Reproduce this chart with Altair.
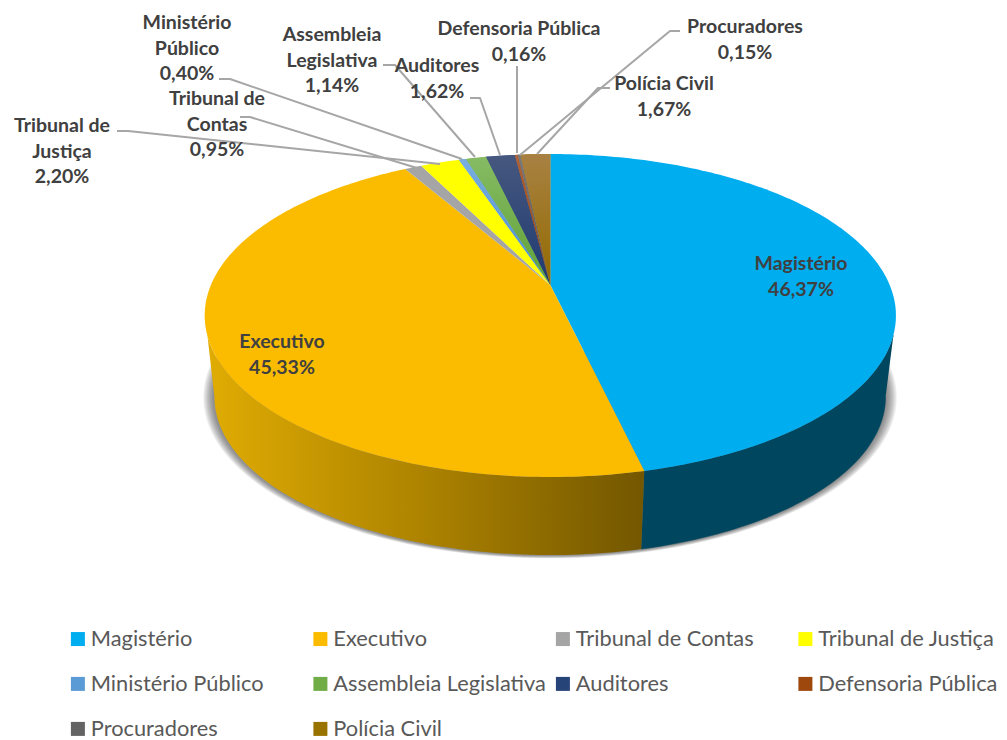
import math
import altair as alt
import pandas as pd

names = ["Magistério", "Executivo", "Tribunal de Contas", "Tribunal de Justiça", "Ministério Público",
         "Assembleia Legislativa", "Auditores", "Defensoria Pública", "Procuradores", "Polícia Civil"]
values = [46.37, 45.33, 0.95, 2.20, 0.40, 1.14, 1.62, 0.16, 0.15, 1.67]
colors = ["#00ADEF", "#FBBC00", "#A5A5A5", "#FFFF00", "#5B9BD5", "#70AD47", "#264478", "#9E480E", "#636363", "#997300"]
gradients = {
    "Ministério Público": ("#79AEE0", "#4A8CCB"),
    "Assembleia Legislativa": ("#86BB64", "#5FA136"),
    "Auditores": ("#46587F", "#1F3A70"),
    "Defensoria Pública": ("#AE6238", "#983F04"),
    "Procuradores": ("#7A7A7A", "#555555"),
    "Polícia Civil": ("#A88143", "#936B00"),
}
label_lines = {
    "Magistério": ["Magistério"],
    "Executivo": ["Executivo"],
    "Tribunal de Contas": ["Tribunal de", "Contas"],
    "Tribunal de Justiça": ["Tribunal de", "Justiça"],
    "Ministério Público": ["Ministério", "Público"],
    "Assembleia Legislativa": ["Assembleia", "Legislativa"],
    "Auditores": ["Auditores"],
    "Defensoria Pública": ["Defensoria Pública"],
    "Procuradores": ["Procuradores"],
    "Polícia Civil": ["Polícia Civil"],
}
# label placement (centre x, first line y) in page pixels
label_pos = {
    "Magistério": (801, 264), "Executivo": (282, 342), "Tribunal de Contas": (217, 99),
    "Tribunal de Justiça": (62, 126), "Ministério Público": (187, 23), "Assembleia Legislativa": (332, 35),
    "Auditores": (437, 66), "Defensoria Pública": (519, 29), "Procuradores": (745, 27), "Polícia Civil": (664, 84),
}
leaders = {
    "Tribunal de Contas": [(240, 117), (250, 117), (417, 168)],
    "Tribunal de Justiça": [(117, 131), (128, 131), (440, 164)],
    "Ministério Público": [(219, 79), (230, 79), (462, 159)],
    "Assembleia Legislativa": [(383, 65), (395, 65), (475, 157)],
    "Auditores": [(470, 98), (480, 98), (500, 155)],
    "Defensoria Pública": [(517, 66), (517, 153)],
    "Procuradores": [(680, 31), (670, 31), (520, 155)],
    "Polícia Civil": [(610, 88), (598, 88), (537, 154)],
}

W, H = 991, 732
K = 0.189
TOP = dict(cx=550.3, cy=285.0, a=339.4, b=155.7)
BOT = dict(cx=550.0, cy=367.0, a=329.5, b=152.5)


def project(deg, g):
    t = math.radians(deg)
    u, v = math.sin(t), math.cos(t)
    d = 1 + K * v
    return g["cx"] + g["a"] * u / d, g["cy"] - g["b"] * v / d


def arc(a0, a1, g):
    n = max(2, int(abs(a1 - a0)) + 2)
    return [project(a0 + (a1 - a0) * i / (n - 1), g) for i in range(n)]


total = sum(values)
edges = [0.0]
for val in values:
    edges.append(edges[-1] + val / total * 360)

apex = (TOP["cx"], TOP["cy"])
slice_rows = []
gradient_polys = {}
for k, nm in enumerate(names):
    pts = [apex] + arc(edges[k], edges[k + 1], TOP) + [apex]
    for i, (x, y) in enumerate(pts):
        slice_rows.append(dict(name=nm, i=i, x=x, y=y))
    if nm in gradients:
        gradient_polys[nm] = pts


def poly_frame(pts):
    return pd.DataFrame([dict(i=i, x=p[0], y=p[1]) for i, p in enumerate(pts)])


wall_mag = arc(107.6, edges[1], TOP) + arc(edges[1], 100.9, BOT)
wall_exe = arc(edges[1], 252, TOP) + arc(259.1, edges[1], BOT)

xs = alt.Scale(domain=[8, 8 + W], nice=False, zero=False)
ys = alt.Scale(domain=[8 + H, 8], nice=False, zero=False)
X = alt.X("x:Q", scale=xs, axis=None)
Y = alt.Y("y:Q", scale=ys, axis=None)
O = alt.Order("i:Q")

layers = []
SHADOW_STEPS = 10
for s in range(SHADOW_STEPS):
    f = s / (SHADOW_STEPS - 1)
    g_s = dict(cx=550.0, cy=367.0, a=340.5 - 9.5 * f, b=155.2 - 2.2 * f)
    layers.append(alt.Chart(poly_frame(arc(84, 276, g_s))).mark_line(fill="#303030", strokeWidth=0, opacity=0.075)
                  .encode(x=X, y=Y, order=O))

layers.append(alt.Chart(poly_frame(wall_mag)).mark_line(fill="#00465F", stroke="#00465F", strokeWidth=0.5)
              .encode(x=X, y=Y, order=O))
exe_grad = alt.LinearGradient(
    gradient="linear", x1=0, x2=1, y1=0, y2=0,
    stops=[alt.GradientStop(offset=0, color="#E0AC03"),
           alt.GradientStop(offset=0.5, color="#AC8200"),
           alt.GradientStop(offset=1, color="#735700")])
layers.append(alt.Chart(poly_frame(wall_exe)).mark_line(fill=exe_grad, strokeWidth=0)
              .encode(x=X, y=Y, order=O))

legend = alt.Legend(title=None, orient="none", legendX=59, legendY=620, columns=4, direction="horizontal",
                    gridAlign="all", symbolType="square", symbolSize=196, symbolStrokeWidth=0, labelFont="Lato",
                    labelFontSize=21.8, labelColor="#595959", labelOffset=2, columnPadding=5.5, rowPadding=22,
                    labelLimit=300, symbolOpacity=1)
slices = alt.Chart(pd.DataFrame(slice_rows)).mark_line(filled=True, strokeWidth=0).encode(
    x=X, y=Y, order=O,
    color=alt.Color("name:N", scale=alt.Scale(domain=names, range=colors), sort=names, legend=legend),
)
layers.append(slices)

for nm, pts in gradient_polys.items():
    c0, c1 = gradients[nm]
    g = alt.LinearGradient(gradient="linear", x1=0, x2=0, y1=0, y2=1,
                           stops=[alt.GradientStop(offset=0, color=c0), alt.GradientStop(offset=1, color=c1)])
    layers.append(alt.Chart(poly_frame(pts)).mark_line(fill=g, strokeWidth=0).encode(x=X, y=Y, order=O))

for nm, pts in leaders.items():
    layers.append(alt.Chart(poly_frame(pts)).mark_line(stroke="#A6A6A6", strokeWidth=2, strokeJoin="round")
                  .encode(x=X, y=Y, order=O))

LINE = 25.5
label_rows = []
for nm, val in zip(names, values):
    lx, ly = label_pos[nm]
    lines = label_lines[nm] + [f"{val:.2f}".replace(".", ",") + "%"]
    for j, t in enumerate(lines):
        label_rows.append(dict(x=lx, y=ly + j * LINE, t=t))
layers.append(alt.Chart(pd.DataFrame(label_rows)).mark_text(
    font="Lato", fontWeight="bold", fontSize=19.5, color="#404040", align="center", baseline="middle")
    .encode(x=X, y=Y, text="t:N"))

chart = alt.layer(*layers).properties(width=W, height=H, padding=0, background="#FFFFFF",
                                      autosize=alt.AutoSizeParams(type="none")) \
    .configure_view(stroke=None, strokeWidth=0)
chart.save("out.html", embed_options={"renderer": "svg", "actions": False})
